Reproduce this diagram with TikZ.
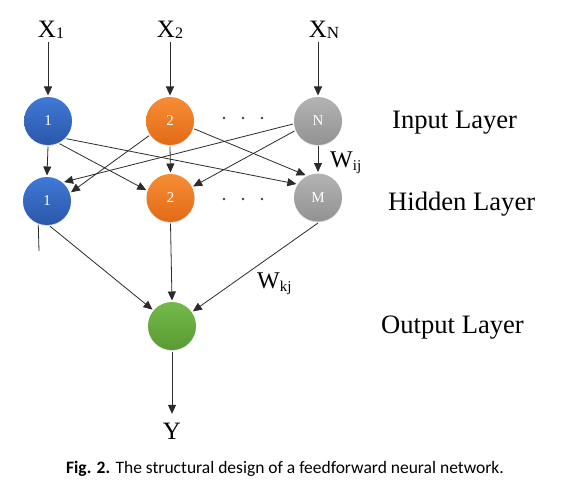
\documentclass[tikz,border=0pt]{standalone}
\usepackage{fontspec}
\setmainfont{Liberation Serif}
\newfontfamily\capfont{Carlito}
\usetikzlibrary{arrows.meta,shadows}
\definecolor{bluetop}{HTML}{4079D6}
\definecolor{bluebot}{HTML}{2A57A9}
\definecolor{orgtop}{HTML}{F68D35}
\definecolor{orgbot}{HTML}{E36A17}
\definecolor{graytop}{HTML}{B3B3B3}
\definecolor{graybot}{HTML}{929292}
\definecolor{grntop}{HTML}{74BA4A}
\definecolor{grnbot}{HTML}{5A9A33}
\definecolor{linec}{HTML}{2B2B2B}
\begin{document}
\begin{tikzpicture}[x=1pt,y=-1pt,
  neuron/.style={circle, minimum size=48pt, inner sep=0pt, outer sep=1.5pt,
    text=white, font=\fontsize{15}{15}\selectfont,
    drop shadow={opacity=0.25, shadow xshift=0pt, shadow yshift=-1pt}},
  blueball/.style={neuron, top color=bluetop, bottom color=bluebot},
  orgball/.style={neuron, top color=orgtop, bottom color=orgbot},
  grayball/.style={neuron, top color=graytop, bottom color=graybot},
  grnball/.style={neuron, top color=grntop, bottom color=grnbot},
  arr/.style={draw=linec, line width=0.8pt, -{Triangle[length=9pt,width=8pt]}},
  plain/.style={draw=linec, line width=0.8pt},
  biglabel/.style={inner sep=0pt, font=\fontsize{25}{25}\selectfont},
  layerlabel/.style={inner sep=0pt, anchor=base west, font=\fontsize{26.6}{26.6}\selectfont},
  wlabel/.style={inner sep=0pt, anchor=base west, font=\fontsize{24}{24}\selectfont},
  dotc/.style={fill=black!75}
]
\useasboundingbox (0,0) rectangle (569,497);
\fill[white] (0,0) rectangle (569,497);

% input labels
\node[biglabel, anchor=base] (x1) at (51,38) {X\raisebox{-1pt}{\fontsize{16}{16}\selectfont 1}};
\node[biglabel, anchor=base] (x2) at (170,38) {X\raisebox{-1pt}{\fontsize{16}{16}\selectfont 2}};
\node[biglabel, anchor=base] (xn) at (324,38) {X\raisebox{-1pt}{\fontsize{17}{17}\selectfont N}};

% neurons
\node[blueball] (i1) at (48,121) {1};
\node[orgball]  (i2) at (170,121) {2};
\node[grayball] (in) at (318,121) {N};
\node[blueball] (h1) at (47,201) {1};
\node[orgball]  (h2) at (170.5,198) {2};
\node[grayball] (hm) at (318,197.5) {M};
\node[grnball]  (o)  at (172,326) {};

% dots
\foreach \xx in {224,243,262} {
  \fill[dotc] (\xx,118) circle (1.3pt);
  \fill[dotc] (\xx,199) circle (1.3pt);
}

% output label
\node[biglabel, anchor=base] (y) at (172,439) {Y};

% input arrows
\draw[arr] (i1.north |- x1.south) ++(0,3) -- (i1.north);
\draw[arr] (i2.north |- x2.south) ++(0,3) -- (i2.north);
\draw[arr] (in.north |- xn.south) ++(0,3) -- (in.north);

% input -> hidden
\draw[arr] (i1.south) -- (h1.north);
\draw[arr] (i1.-63) -- (h2.162);
\draw[arr] (i1.-44) -- (hm.148);
\draw[arr] (i2.-145) -- (h1.20);
\draw[arr] (i2.south) -- (h2.north);
\draw[arr] (i2.-18) -- (hm.119);
\draw[arr] (in.-173) -- (h1.48);
\draw[arr] (in.-157) -- (h2.27);
\draw[arr] (in.south) -- (hm.north);

% hidden -> output
\coordinate (stray) at (39,251);
\draw[plain] (h1.-110) -- (stray);
\draw[arr] (h1.-83) -- (o.140);
\draw[arr] (h2.south) -- (o.north);
\draw[arr] (hm.south) -- (o.35);
\draw[arr, shorten >=17pt] (o.south) -- (y.center);

% weights
\node[wlabel] (wij) at (330,167) {W\raisebox{-3pt}{\fontsize{15}{15}\selectfont ij}};
\node[wlabel] (wkj) at (257,288) {W\raisebox{-3pt}{\fontsize{15}{15}\selectfont kj}};

% layer labels
\node[layerlabel] (lin) at (392,129) {Input Layer};
\node[layerlabel] (lhid) at (388,210) {Hidden Layer};
\node[layerlabel] (lout) at (381,333) {Output Layer};

% caption
\node[inner sep=0pt, anchor=base, font=\capfont\fontsize{17.5}{17.5}\selectfont] (cap) at (285,473)
  {\textbf{Fig. 2.} The structural design of a feedforward neural network.};
\end{tikzpicture}
\end{document}
